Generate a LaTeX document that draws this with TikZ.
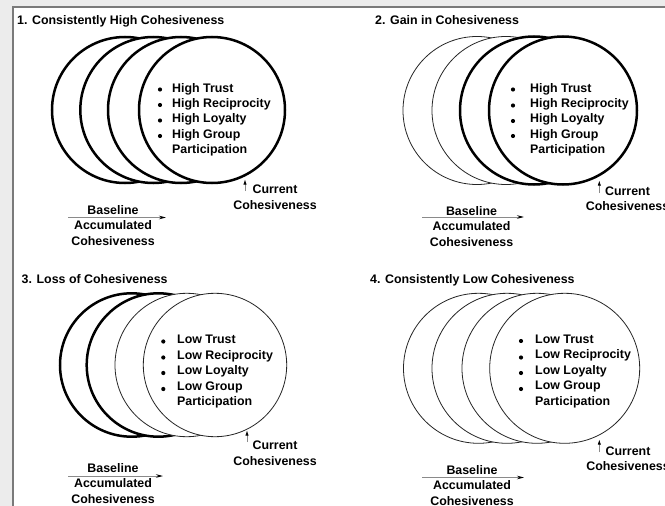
\documentclass[tikz,border=0pt]{standalone}
\usepackage{fontspec}
\setmainfont{Liberation Sans}
\usetikzlibrary{arrows.meta}
\definecolor{bggray}{HTML}{ECECEC}
\definecolor{framegray}{HTML}{7A7A7A}
\definecolor{linegray}{HTML}{8A8A8A}
\newcommand{\txtfont}{\bfseries\fontsize{12.4}{15.5}\selectfont}
\begin{document}
\begin{tikzpicture}[x=1pt,y=-1pt,
  thickc/.style={draw=black, line width=2.5pt, fill=white},
  thinc/.style={draw=black!85, line width=0.8pt, fill=white},
  ptitle/.style={anchor=base west, inner sep=0pt, font=\txtfont},
  plist/.style={anchor=base west, inner sep=0pt, font=\txtfont},
  pcenter/.style={anchor=base, inner sep=0pt, font=\txtfont},
  bulletdot/.style={fill=black},
  curarrow/.style={draw=linegray, line width=0.6pt, -{Latex[length=5pt,width=3.2pt,black]}},
  basearrow/.style={draw=linegray, line width=0.9pt, -{Stealth[length=7pt,width=3.5pt,black]}}
]
\useasboundingbox (0,0) rectangle (665,506);
\fill[bggray] (0,0) rectangle (665,506);
\fill[white] (13,7) rectangle (665,506);
\draw[framegray, line width=1.4pt] (13,506) -- (13,7) -- (665,7);

% ---------- Panel 1 ----------
\node[ptitle] (t1) at (17,24) {1. Consistently High Cohesiveness};
\draw[thickc] (125,110) circle[radius=73];
\draw[thickc] (153.3,110) circle[radius=73];
\draw[thickc] (181,110) circle[radius=73];
\draw[thickc] (212,110) circle[radius=73];
\node[plist] (l1) at (172,92) {\begin{tabular}[t]{@{}l@{}}High Trust\\High Reciprocity\\High Loyalty\\High Group\\Participation\end{tabular}};
\foreach \yy in {89.5,105,120.5,136} \fill[bulletdot] (160,\yy) circle (2.1);
\coordinate (a1t) at (245,179.5);
\coordinate (a1s) at (245,191);
\draw[curarrow] (a1s) -- (a1t);
\node[pcenter] (c1) at (275,193.5) {\begin{tabular}[t]{@{}c@{}}Current\\Cohesiveness\end{tabular}};
\coordinate (b1s) at (68,217.5);
\coordinate (b1e) at (166,217.5);
\draw[basearrow] (b1s) -- (b1e);
\node[pcenter] (d1) at (113,214) {\begin{tabular}[t]{@{}c@{}}Baseline\\Accumulated\\Cohesiveness\end{tabular}};

% ---------- Panel 2 ----------
\node[ptitle] (t2) at (375,24) {2. Gain in Cohesiveness};
\draw[thinc] (477,110.5) circle[radius=74];
\draw[thinc] (506,110.5) circle[radius=74];
\draw[thickc] (534,110.5) circle[radius=74];
\draw[thickc] (563,110.5) circle[radius=74];
\node[plist] (l2) at (530,92) {\begin{tabular}[t]{@{}l@{}}High Trust\\High Reciprocity\\High Loyalty\\High Group\\Participation\end{tabular}};
\foreach \yy in {89.5,105.5,121,136} \fill[bulletdot] (513,\yy) circle (2.1);
\coordinate (a2t) at (599.3,180.5);
\coordinate (a2s) at (599.3,193);
\draw[curarrow] (a2s) -- (a2t);
\node[pcenter] (c2) at (627.5,195) {\begin{tabular}[t]{@{}c@{}}Current\\Cohesiveness\end{tabular}};
\coordinate (b2s) at (422,217);
\coordinate (b2e) at (524,217);
\draw[basearrow] (b2s) -- (b2e);
\node[pcenter] (d2) at (471.5,215) {\begin{tabular}[t]{@{}c@{}}Baseline\\Accumulated\\Cohesiveness\end{tabular}};

% ---------- Panel 3 ----------
\node[ptitle] (t3) at (21.5,283) {3. Loss of Cohesiveness};
\draw[thickc] (131.7,365) circle[radius=71.7];
\draw[thickc] (158.4,365) circle[radius=71.7];
\draw[thinc] (186.7,365) circle[radius=71.7];
\draw[thinc] (215,365) circle[radius=71.7];
\node[plist] (l3) at (177,343.5) {\begin{tabular}[t]{@{}l@{}}Low Trust\\Low Reciprocity\\Low Loyalty\\Low Group\\Participation\end{tabular}};
\foreach \yy in {341.5,357.5,373,389} \fill[bulletdot] (163.3,\yy) circle (2.1);
\coordinate (a3t) at (247,430.5);
\coordinate (a3s) at (247,442);
\draw[curarrow] (a3s) -- (a3t);
\node[pcenter] (c3) at (275,449.5) {\begin{tabular}[t]{@{}c@{}}Current\\Cohesiveness\end{tabular}};
\coordinate (b3s) at (68,476);
\coordinate (b3e) at (163,476);
\draw[basearrow] (b3s) -- (b3e);
\node[pcenter] (d3) at (113,472) {\begin{tabular}[t]{@{}c@{}}Baseline\\Accumulated\\Cohesiveness\end{tabular}};

% ---------- Panel 4 ----------
\node[ptitle] (t4) at (370,283) {4. Consistently Low Cohesiveness};
\draw[thinc] (478.5,368.3) circle[radius=75];
\draw[thinc] (507,368.3) circle[radius=75];
\draw[thinc] (537,368.3) circle[radius=75];
\draw[thinc] (564.7,368.3) circle[radius=75];
\node[plist] (l4) at (535,343) {\begin{tabular}[t]{@{}l@{}}Low Trust\\Low Reciprocity\\Low Loyalty\\Low Group\\Participation\end{tabular}};
\foreach \yy in {341,357.5,373,389} \fill[bulletdot] (521,\yy) circle (2.1);
\coordinate (a4t) at (599.3,439.5);
\coordinate (a4s) at (599.3,452);
\draw[curarrow] (a4s) -- (a4t);
\node[pcenter] (c4) at (628,455) {\begin{tabular}[t]{@{}c@{}}Current\\Cohesiveness\end{tabular}};
\coordinate (b4s) at (422,477.5);
\coordinate (b4e) at (524,477.5);
\draw[basearrow] (b4s) -- (b4e);
\node[pcenter] (d4) at (472,474) {\begin{tabular}[t]{@{}c@{}}Baseline\\Accumulated\\Cohesiveness\end{tabular}};
\end{tikzpicture}
\end{document}
